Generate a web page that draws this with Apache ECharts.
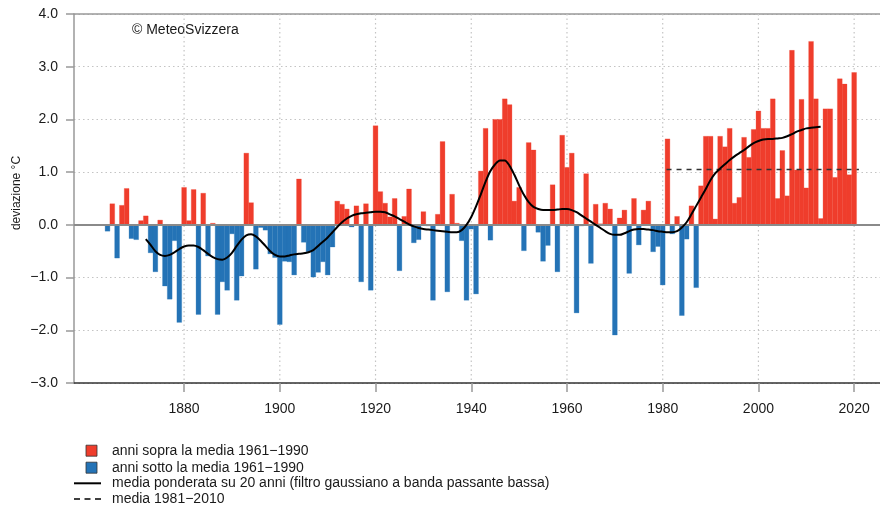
<!DOCTYPE html>
<html>
<head>
<meta charset="utf-8">
<script src="https://cdn.jsdelivr.net/npm/echarts@6/dist/echarts.min.js"></script>
<style>
html,body{margin:0;padding:0;background:#fff;}
#chart{width:880px;height:509px;}
</style>
</head>
<body>
<div id="chart"></div>
<script>
// ---- Data ----
var firstYear = 1864;
var anomalies = [
  -0.12, 0.40, -0.63, 0.37, 0.69, -0.26, -0.28, 0.08, 0.17, -0.53,   // 1864-1873
  -0.89, 0.09, -1.16, -1.41, -0.30, -1.85, 0.71, 0.08, 0.67, -1.70,  // 1874-1883
  0.60, -0.59, 0.03, -1.70, -1.08, -1.24, -0.17, -1.43, -0.97, 1.36, // 1884-1893
  0.42, -0.84, -0.05, -0.10, -0.55, -0.62, -1.89, -0.69, -0.70, -0.95, // 1894-1903
  0.87, -0.33, -0.51, -0.99, -0.90, -0.70, -0.95, -0.42, 0.45, 0.39, // 1904-1913
  0.30, -0.04, 0.36, -1.08, 0.40, -1.24, 1.88, 0.63, 0.41, 0.15,     // 1914-1923
  0.50, -0.87, 0.16, 0.68, -0.34, -0.28, 0.25, -0.02, -1.43, 0.20,   // 1924-1933
  1.58, -1.27, 0.58, 0.03, -0.30, -1.43, -0.08, -1.31, 1.02, 1.83,   // 1934-1943
  -0.29, 2.00, 2.00, 2.39, 2.28, 0.45, 0.71, -0.49, 1.56, 1.42,      // 1944-1953
  -0.14, -0.69, -0.39, 0.76, -0.89, 1.70, 1.09, 1.36, -1.67, -0.02,  // 1954-1963
  0.97, -0.73, 0.39, 0.02, 0.41, 0.30, -2.09, 0.13, 0.28, -0.92,     // 1964-1973
  0.50, -0.38, 0.28, 0.45, -0.51, -0.41, -1.14, 1.63, -0.17, 0.16,   // 1974-1983
  -1.72, -0.27, 0.36, -1.19, 0.74, 1.68, 1.68, 0.11, 1.68, 1.48,     // 1984-1993
  1.83, 0.41, 0.52, 1.66, 1.28, 1.81, 2.16, 1.83, 1.83, 2.39,        // 1994-2003
  0.50, 1.41, 0.55, 3.31, 1.04, 2.38, 0.70, 3.48, 2.39, 0.12,        // 2004-2013
  2.20, 2.20, 0.90, 2.77, 2.67, 0.95, 2.89                           // 2014-2020
];
var filterStart = 1872;
var filterValues = [
  -0.27, -0.38, -0.50, -0.57, -0.59, -0.57, -0.52, -0.46, -0.41, -0.39, // 1872-1881
  -0.39, -0.42, -0.48, -0.55, -0.61, -0.65, -0.66, -0.62, -0.53, -0.40, // 1882-1891
  -0.28, -0.20, -0.18, -0.22, -0.30, -0.40, -0.50, -0.57, -0.60, -0.60, // 1892-1901
  -0.58, -0.56, -0.55, -0.54, -0.52, -0.48, -0.40, -0.32, -0.24, -0.14, // 1902-1911
  -0.04, 0.05, 0.12, 0.17, 0.20, 0.22, 0.23, 0.24, 0.25, 0.25,          // 1912-1921
  0.24, 0.20, 0.16, 0.11, 0.06, 0.01, -0.03, -0.06, -0.08, -0.09,       // 1922-1931
  -0.10, -0.11, -0.12, -0.13, -0.14, -0.14, -0.10, 0.00, 0.15, 0.35,    // 1932-1941
  0.58, 0.82, 1.02, 1.15, 1.22, 1.22, 1.12, 0.95, 0.75, 0.57,           // 1942-1951
  0.43, 0.34, 0.30, 0.28, 0.28, 0.28, 0.29, 0.30, 0.30, 0.28,           // 1952-1961
  0.24, 0.18, 0.12, 0.06, 0.00, -0.06, -0.12, -0.17, -0.19, -0.19,      // 1962-1971
  -0.16, -0.12, -0.09, -0.08, -0.08, -0.09, -0.10, -0.12, -0.13, -0.14, // 1972-1981
  -0.14, -0.12, -0.05, 0.05, 0.20, 0.36, 0.52, 0.68, 0.85, 0.98,        // 1982-1991
  1.07, 1.15, 1.23, 1.30, 1.36, 1.42, 1.49, 1.55, 1.59, 1.62,           // 1992-2001
  1.63, 1.63, 1.64, 1.65, 1.68, 1.72, 1.77, 1.80, 1.83, 1.84,           // 2002-2011
  1.85, 1.86                                                            // 2012-2013
];
var refMeanValue = 1.05;
var refMeanFrom = 1980.8;
var refMeanTo = 2021;
var xTickYears = [1880, 1900, 1920, 1940, 1960, 1980, 2000, 2020];
var legendTexts = [
  'anni sopra la media 1961\u22121990',
  'anni sotto la media 1961\u22121990',
  'media ponderata su 20 anni (filtro gaussiano a banda passante bassa)',
  'media 1981\u22122010'
];
var copyrightText = '\u00a9 MeteoSvizzera';
var yAxisTitle = 'deviazione \u00b0C';

// ---- Styling ----
var RED = '#ef3d2c';
var BLUE = '#2473b6';
var FONT = '"Liberation Sans", Arial, Helvetica, sans-serif';
var TXT = '#1a1a1a';
var GRID = '#c4c4c4';

var barData = anomalies.map(function (v, i) { return [firstYear + i, v]; });
var filterData = filterValues.map(function (v, i) { return [filterStart + i, v]; });
var vGridData = xTickYears.map(function (y) { return [y]; });

var chart = echarts.init(document.getElementById('chart'), null, {renderer: 'canvas'});

var option = {
  animation: false,
  backgroundColor: '#ffffff',
  grid: {left: 74, right: 0, top: 14, bottom: 126, containLabel: false},
  xAxis: [{
    type: 'value', min: 1857, max: 2025.4, position: 'bottom',
    axisLine: {show: true, onZero: false, lineStyle: {color: '#333', width: 1.5}},
    axisTick: {show: true, length: 9, customValues: xTickYears, lineStyle: {color: '#999', width: 1.5}},
    axisLabel: {show: true, customValues: xTickYears, margin: 19, color: TXT, fontSize: 14, fontFamily: FONT,
      formatter: function (v) { return String(v); }},
    splitLine: {show: false}
  }, {
    type: 'value', min: 1857, max: 2025.4, position: 'top',
    axisLine: {show: true, onZero: false, lineStyle: {color: '#999', width: 1.5}},
    axisTick: {show: false}, axisLabel: {show: false}, splitLine: {show: false}
  }],
  yAxis: {
    type: 'value', min: -3, max: 4, interval: 1,
    axisLine: {show: true, onZero: false, lineStyle: {color: '#999', width: 1.5}},
    axisTick: {show: true, length: 8, lineStyle: {color: '#999', width: 1.5}},
    axisLabel: {margin: 16, color: TXT, fontSize: 14, fontFamily: FONT,
      formatter: function (v) { return v.toFixed(1).replace('-', '\u2212'); }},
    splitLine: {show: true, lineStyle: {color: GRID, type: [1.5, 3], width: 1.2}}
  },
  series: [
    {
      type: 'custom', z: 1, silent: true,
      data: vGridData,
      renderItem: function (params, api) {
        var yr = api.value(0);
        var a = api.coord([yr, 4]);
        var b = api.coord([yr, -3]);
        return {
          type: 'line',
          shape: {x1: a[0], y1: a[1], x2: b[0], y2: b[1]},
          style: {stroke: GRID, lineWidth: 1.2, lineDash: [1.5, 3]}
        };
      }
    },
    {
      type: 'custom', z: 2, silent: true,
      data: barData,
      renderItem: function (params, api) {
        var yr = api.value(0), v = api.value(1);
        var p0 = api.coord([yr - 0.5, v]);
        var p1 = api.coord([yr + 0.5, 0]);
        return {
          type: 'rect',
          shape: {x: p0[0], y: Math.min(p0[1], p1[1]), width: p1[0] - p0[0], height: Math.abs(p1[1] - p0[1])},
          style: {fill: v >= 0 ? RED : BLUE, stroke: v >= 0 ? 'rgba(239,61,44,0.55)' : 'rgba(36,115,182,0.55)', lineWidth: 0.5}
        };
      }
    },
    {
      type: 'line', data: [], z: 3, silent: true,
      markLine: {
        silent: true, symbol: 'none', animation: false,
        label: {show: false},
        lineStyle: {color: '#8a8a8a', type: 'solid', width: 2},
        data: [{yAxis: 0}]
      }
    },
    {
      type: 'line', z: 4, silent: true, symbol: 'none',
      data: [[refMeanFrom, refMeanValue], [refMeanTo, refMeanValue]],
      lineStyle: {color: '#333', width: 1.5, type: [5, 5]}
    },
    {
      type: 'line', z: 5, silent: true, symbol: 'none', smooth: 0.3,
      data: filterData,
      lineStyle: {color: '#000', width: 2}
    }
  ],
  graphic: [
    {type: 'text', left: 132, top: 23, style: {text: copyrightText, fill: TXT, font: '14px ' + FONT}},
    {type: 'text', x: 17, y: 193, rotation: Math.PI / 2,
      style: {text: yAxisTitle, fill: TXT, font: '12px ' + FONT, textAlign: 'center', textVerticalAlign: 'middle'}},
    {type: 'rect', shape: {x: 86, y: 445.2, width: 11, height: 11}, style: {fill: RED, stroke: '#333', lineWidth: 0.8}},
    {type: 'rect', shape: {x: 86, y: 462.2, width: 11, height: 11}, style: {fill: BLUE, stroke: '#333', lineWidth: 0.8}},
    {type: 'line', shape: {x1: 74, y1: 483.3, x2: 101, y2: 483.3}, style: {stroke: '#000', lineWidth: 2}},
    {type: 'line', shape: {x1: 74, y1: 499, x2: 101, y2: 499}, style: {stroke: '#000', lineWidth: 1.5, lineDash: [6, 4.5]}},
    {type: 'text', x: 112, y: 450.7, style: {text: legendTexts[0], fill: TXT, font: '14px ' + FONT, textVerticalAlign: 'middle'}},
    {type: 'text', x: 112, y: 467.7, style: {text: legendTexts[1], fill: TXT, font: '14px ' + FONT, textVerticalAlign: 'middle'}},
    {type: 'text', x: 112, y: 483.3, style: {text: legendTexts[2], fill: TXT, font: '14px ' + FONT, textVerticalAlign: 'middle'}},
    {type: 'text', x: 112, y: 499, style: {text: legendTexts[3], fill: TXT, font: '14px ' + FONT, textVerticalAlign: 'middle'}}
  ]
};
chart.setOption(option);
</script>
</body>
</html>
